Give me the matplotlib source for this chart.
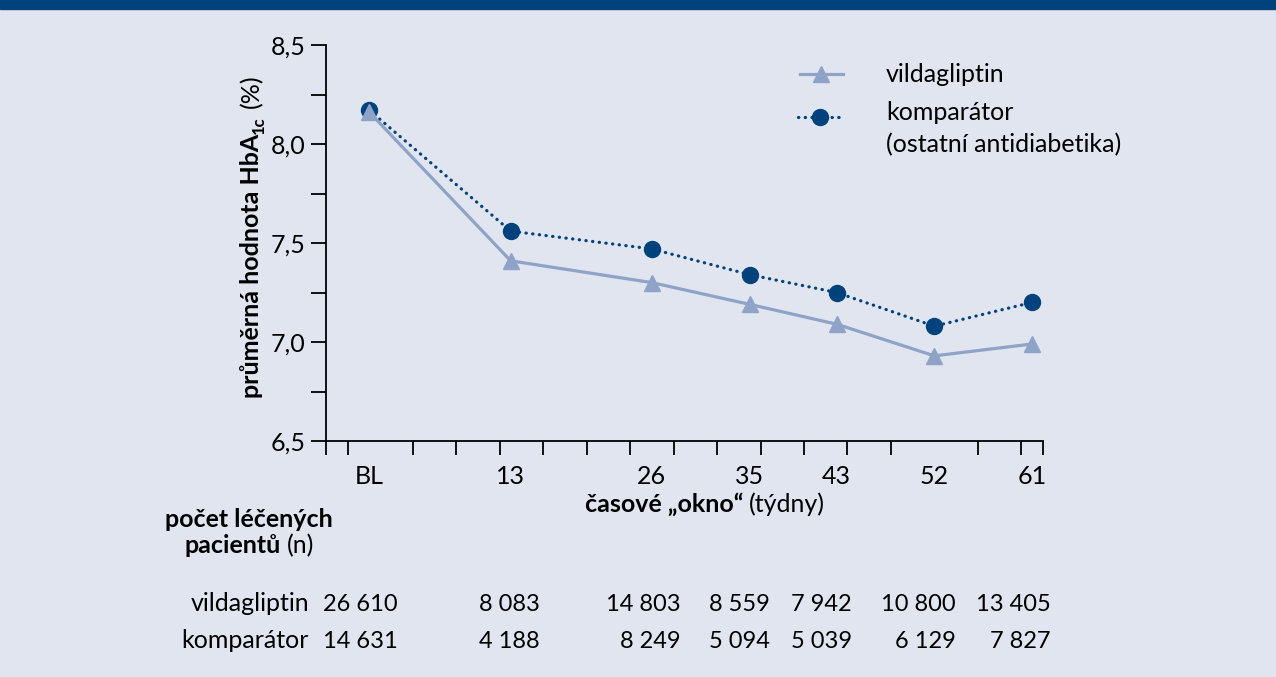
import matplotlib
matplotlib.use("Agg")
import matplotlib.pyplot as plt
from matplotlib.lines import Line2D
from matplotlib.patches import Rectangle
from matplotlib.transforms import IdentityTransform

# --- data ---
weeks = [0, 13, 26, 35, 43, 52, 61]
week_labels = ["BL", "13", "26", "35", "43", "52", "61"]
vilda_hba1c = [8.16, 7.41, 7.30, 7.19, 7.09, 6.93, 6.99]
comp_hba1c = [8.17, 7.56, 7.47, 7.34, 7.25, 7.08, 7.20]
vilda_n = ["26 610", "8 083", "14 803", "8 559", "7 942", "10 800", "13 405"]
comp_n = ["14 631", "4 188", "8 249", "5 094", "5 039", "6 129", "7 827"]
y_ticks = [6.5, 7.0, 7.5, 8.0, 8.5]
y_tick_labels = ["6,5", "7,0", "7,5", "8,0", "8,5"]
y_minor = [6.75, 7.25, 7.75, 8.25]

# --- style / layout ---
W, H = 1276, 677
BG = "#e1e5f0"
NAVY = "#00427c"
LIGHT = "#8fa2c8"
FS = 18
plt.rcParams["font.family"] = ["Lato", "DejaVu Sans"]
plt.rcParams["font.size"] = FS

# right edges (px) of the patient-count columns
col_right = [398, 540, 681, 770, 852, 956, 1051]


def fx(x):
    return x / W


def fy(y):
    return 1 - y / H


fig = plt.figure(figsize=(W / 100, H / 100), dpi=100, facecolor=BG)
fig.add_artist(Rectangle((0, fy(9)), 1, 9 / H, transform=fig.transFigure,
                         color=NAVY, zorder=10))
renderer = fig.canvas.get_renderer()


def runs(x, y, parts, rotation=0, align="center"):
    """parts: (text, weight, size, shift_px, gap_before_px); x,y in px from top-left"""
    objs = []
    lengths = []
    for s, weight, size, shift, gap in parts:
        t = fig.text(0, 0, s, fontsize=size, fontweight=weight,
                     transform=IdentityTransform(), rotation=rotation,
                     rotation_mode="anchor", ha="left", va="baseline")
        bb = t.get_window_extent(renderer)
        objs.append(t)
        lengths.append((gap, bb.height if rotation else bb.width))
    total = sum(g + l for g, l in lengths)
    if rotation:
        pos = (H - y) - total / 2 if align == "center" else (H - y)
        for t, (gap, l), p in zip(objs, lengths, parts):
            pos += gap
            t.set_position((x + p[3], pos))
            pos += l
    else:
        pos = x - total / 2 if align == "center" else x
        for t, (gap, l), p in zip(objs, lengths, parts):
            pos += gap
            t.set_position((pos, H - y - p[3]))
            pos += l


ax = fig.add_axes([fx(326), fy(441), (1043 - 326) / W, (441 - 45) / H])
ax.set_facecolor(BG)
ax.set_xlim(-4, 62)
ax.set_ylim(6.5, 8.5)
for side in ["top", "right"]:
    ax.spines[side].set_visible(False)
for side in ["left", "bottom"]:
    ax.spines[side].set_linewidth(1.3)

ax.set_yticks(y_ticks)
ax.set_yticklabels(y_tick_labels)
ax.set_yticks(y_minor, minor=True)
ax.tick_params(axis="y", which="both", direction="out", length=11, width=1.3,
               pad=4, labelsize=FS)

grid_weeks = [-4, -2] + list(range(0, 61, 4)) + [62]
ax.set_xticks(weeks)
ax.set_xticklabels(week_labels)
ax.set_xticks(grid_weeks, minor=True)
ax.tick_params(axis="x", which="major", length=0, pad=17, labelsize=FS)
ax.tick_params(axis="x", which="minor", direction="out", length=10, width=1.3)

ax.plot(weeks, comp_hba1c, color=NAVY, lw=2.3, ls=(0, (0.1, 2.0)),
        dash_capstyle="round", marker="o", ms=11.5, zorder=3, clip_on=False)
ax.plot(weeks, vilda_hba1c, color=LIGHT, lw=2.3, marker="^", ms=11.5,
        zorder=4, clip_on=False)

# legend
fig.add_artist(Line2D([fx(800), fx(843)], [fy(74), fy(74)], color=LIGHT, lw=2.3,
                      transform=fig.transFigure))
fig.add_artist(Line2D([fx(821)], [fy(74)], color=LIGHT, marker="^", ms=11.5,
                      transform=fig.transFigure))
fig.add_artist(Line2D([fx(798), fx(842)], [fy(117), fy(117)], color=NAVY, lw=2.3,
                      ls=(0, (0.1, 2.0)), dash_capstyle="round",
                      transform=fig.transFigure))
fig.add_artist(Line2D([fx(820)], [fy(117)], color=NAVY, marker="o", ms=11.5,
                      transform=fig.transFigure))
fig.text(fx(886), fy(74), "vildagliptin", va="center", ha="left")
fig.text(fx(886), fy(113), "komparátor", va="center", ha="left")
fig.text(fx(886), fy(145), "(ostatní antidiabetika)", va="center", ha="left")

# axis titles
runs(259, 236, [("průměrná hodnota HbA", "bold", FS, 0, 0),
                ("1c", "bold", 12, 5, 0),
                ("(%)", "normal", FS, 0, 8)], rotation=90)
runs(705, 512, [("časové „okno“", "bold", FS, 0, 0),
                ("(týdny)", "normal", FS, 0, 6)])

# patient counts table
runs(249, 527, [("počet léčených", "bold", FS, 0, 0)])
runs(249, 553, [("pacientů", "bold", FS, 0, 0), ("(n)", "normal", FS, 0, 6)])
fig.text(fx(309), fy(611), "vildagliptin", ha="right", va="baseline")
fig.text(fx(309), fy(648), "komparátor", ha="right", va="baseline")
for xr, nv, nc in zip(col_right, vilda_n, comp_n):
    fig.text(fx(xr), fy(611), nv, ha="right", va="baseline", fontsize=17)
    fig.text(fx(xr), fy(648), nc, ha="right", va="baseline", fontsize=17)

fig.savefig("out.png", dpi=100, facecolor=BG)
